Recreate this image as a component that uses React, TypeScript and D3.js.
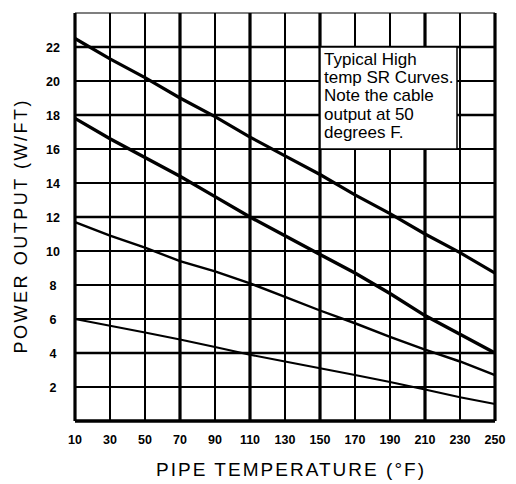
import React from "react";
import * as d3 from "d3";

const temps = [10, 30, 50, 70, 90, 110, 130, 150, 170, 190, 210, 230, 250];
const curveA = [22.5, 21.3, 20.2, 19.0, 17.9, 16.7, 15.6, 14.5, 13.3, 12.2, 11.0, 9.9, 8.7];
const curveB = [17.8, 16.6, 15.5, 14.4, 13.2, 12.0, 10.9, 9.8, 8.7, 7.5, 6.2, 5.1, 4.0];
const curveC = [11.7, 10.9, 10.2, 9.4, 8.8, 8.1, 7.3, 6.5, 5.75, 4.95, 4.2, 3.5, 2.7];
const curveD = [6.0, 5.6, 5.2, 4.8, 4.35, 3.9, 3.5, 3.1, 2.7, 2.3, 1.85, 1.4, 1.0];
const yTicks = [2, 4, 6, 8, 10, 12, 14, 16, 18, 20, 22];
const yGrid = [0, 2, 4, 6, 8, 10, 12, 14, 16, 18, 20, 22, 24];
const thickX = [10, 70, 110, 150, 210, 250];
const thickY = [0, 4, 12, 18, 22];
const noteLines = ["Typical High", "temp SR Curves.", "Note the cable", "output at 50", "degrees F."];

const series = [
  { values: curveA, width: 3.2 },
  { values: curveB, width: 3.4 },
  { values: curveC, width: 2.4 },
  { values: curveD, width: 2 },
];

export default function App() {
  const x = d3.scaleLinear().domain([10, 250]).range([75, 495]);
  const y = d3.scaleLinear().domain([0, 24]).range([421, 13]);
  const line = d3
    .line<[number, number]>()
    .x((d) => x(d[0]))
    .y((d) => y(d[1]));

  const tickFont = "'Liberation Sans', Arial, sans-serif";

  return (
    <svg
      width={516}
      height={484}
      style={{ position: "absolute", left: 0, top: 0, background: "#fff" }}
    >
      <rect x={0} y={0} width={516} height={484} fill="#fff" />
      {temps.map((t) => (
        <line
          key={"v" + t}
          x1={x(t)}
          x2={x(t)}
          y1={y(24)}
          y2={y(0)}
          stroke="#000"
          strokeWidth={thickX.includes(t) ? 3.2 : 2}
        />
      ))}
      {yGrid.map((v) => (
        <line
          key={"h" + v}
          x1={x(10)}
          x2={x(250)}
          y1={y(v)}
          y2={y(v)}
          stroke="#000"
          strokeWidth={v === 24 ? 1.2 : v === 0 ? 3.4 : thickY.includes(v) ? 2.6 : 1.8}
        />
      ))}
      {series.map((s, i) => (
        <path
          key={"c" + i}
          d={line(temps.map((t, j) => [t, s.values[j]]) as [number, number][]) || ""}
          fill="none"
          stroke="#000"
          strokeWidth={s.width}
        />
      ))}
      <rect
        x={x(150)}
        y={y(22)}
        width={x(230) - x(150) - 3}
        height={y(16) - y(22)}
        fill="#fff"
        stroke="#000"
        strokeWidth={1.5}
      />
      {noteLines.map((l, i) => (
        <text
          key={"n" + i}
          x={x(150) + 4}
          y={y(22) + 18 + i * 18.2}
          fontFamily={tickFont}
          fontSize={17}
          fill="#000"
        >
          {l}
        </text>
      ))}
      {yTicks.map((v) => (
        <text
          key={"yt" + v}
          x={53}
          y={y(v) + 4.5}
          textAnchor="middle"
          fontFamily={tickFont}
          fontWeight="bold"
          fontSize={12.5}
          fill="#000"
        >
          {v}
        </text>
      ))}
      {temps.map((t) => (
        <text
          key={"xt" + t}
          x={x(t)}
          y={444}
          textAnchor="middle"
          fontFamily={tickFont}
          fontWeight="bold"
          fontSize={12.5}
          fill="#000"
        >
          {t}
        </text>
      ))}
      <text
        x={290}
        y={476}
        textAnchor="middle"
        fontFamily={tickFont}
        fontSize={19}
        textLength={268}
        lengthAdjust="spacing"
        fill="#000"
      >
        PIPE TEMPERATURE (°F)
      </text>
      <text
        transform="translate(27,227) rotate(-90)"
        textAnchor="middle"
        fontFamily={tickFont}
        fontSize={18}
        textLength={253}
        lengthAdjust="spacing"
        fill="#000"
      >
        POWER OUTPUT (W/FT)
      </text>
    </svg>
  );
}
